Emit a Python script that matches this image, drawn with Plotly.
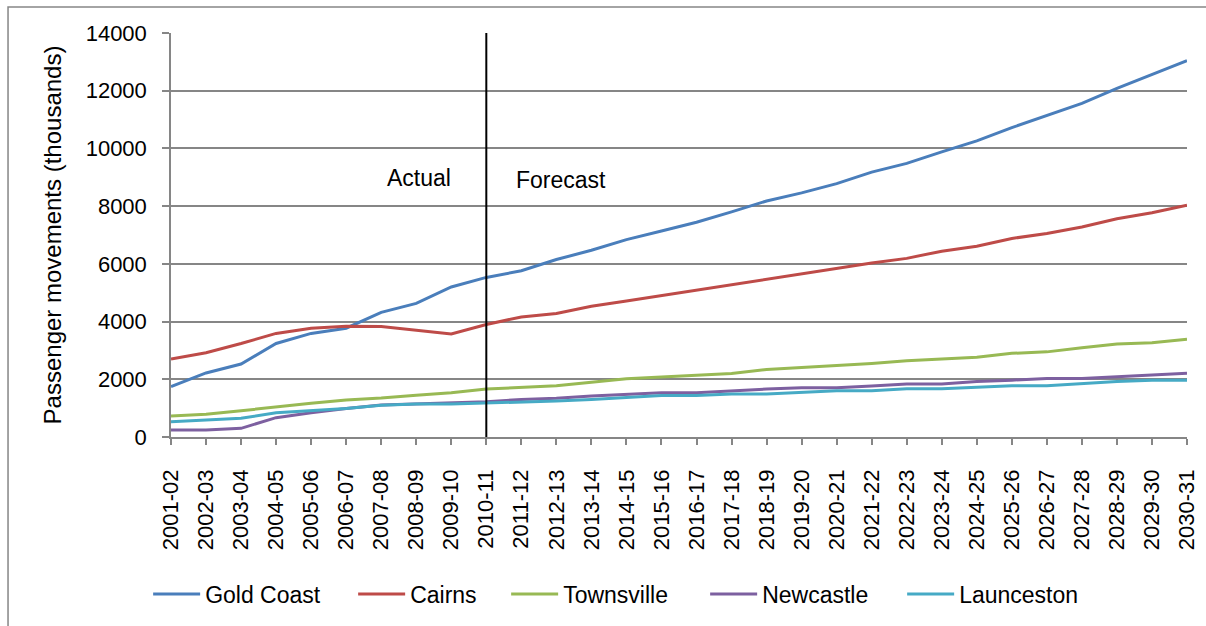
import plotly.graph_objects as go

years = ["2001-02", "2002-03", "2003-04", "2004-05", "2005-06", "2006-07", "2007-08",
         "2008-09", "2009-10", "2010-11", "2011-12", "2012-13", "2013-14", "2014-15",
         "2015-16", "2016-17", "2017-18", "2018-19", "2019-20", "2020-21", "2021-22",
         "2022-23", "2023-24", "2024-25", "2025-26", "2026-27", "2027-28", "2028-29",
         "2029-30", "2030-31"]

gold_coast = [1750, 2220, 2530, 3240, 3590, 3770, 4320, 4630, 5200, 5530,
              5760, 6150, 6470, 6840, 7140, 7440, 7800, 8180, 8460, 8780,
              9180, 9480, 9880, 10260, 10720, 11130, 11560, 12080, 12560, 13040]
cairns = [2700, 2920, 3240, 3590, 3770, 3840, 3830, 3700, 3570, 3900,
          4160, 4280, 4530, 4710, 4900, 5090, 5260, 5460, 5640, 5840,
          6030, 6190, 6440, 6610, 6880, 7050, 7280, 7560, 7770, 8030]
townsville = [730, 790, 910, 1050, 1170, 1280, 1350, 1450, 1530, 1660,
              1730, 1780, 1900, 2020, 2080, 2150, 2200, 2340, 2400, 2480,
              2550, 2640, 2700, 2760, 2900, 2950, 3090, 3220, 3270, 3390]
newcastle = [240, 240, 300, 670, 840, 990, 1110, 1140, 1170, 1220,
             1300, 1340, 1420, 1480, 1530, 1530, 1600, 1660, 1710, 1710,
             1770, 1840, 1840, 1920, 1970, 2030, 2030, 2090, 2150, 2210]
launceston = [530, 590, 650, 840, 910, 990, 1100, 1140, 1140, 1170,
              1220, 1250, 1300, 1360, 1440, 1440, 1490, 1490, 1550, 1600,
              1600, 1670, 1670, 1720, 1780, 1780, 1860, 1920, 1970, 1970]

series_names = ["Gold Coast", "Cairns", "Townsville", "Newcastle", "Launceston"]
series_values = [gold_coast, cairns, townsville, newcastle, launceston]
forecast_start = "2010-11"

colors = ["#4A7EBB", "#BE4B48", "#98B954", "#7D60A0", "#46AAC5"]
legend_widths = [143, 91, 137, 135, 130]

FONT = "Liberation Sans, Arial, sans-serif"
GRID = "#868686"

fig = go.Figure()
for name, vals, col, lw in zip(series_names, series_values, colors, legend_widths):
    fig.add_trace(go.Scatter(x=years, y=vals, name=name, mode="lines",
                             line=dict(color=col, width=3), legendwidth=lw))

fig.add_shape(type="line", xref="x", yref="paper", x0=forecast_start, x1=forecast_start,
              y0=0, y1=1, line=dict(color="black", width=2))
# outer chart border
fig.add_shape(type="rect", xref="paper", yref="paper", x0=-0.1604, x1=1.3, y0=-0.6, y1=1.0644,
              line=dict(color=GRID, width=1.5), layer="below")

fig.add_annotation(text="Actual", xref="paper", yref="paper", x=0.2776, y=0.641,
                   xanchor="right", yanchor="middle", showarrow=False,
                   font=dict(size=23, color="black", family=FONT))
fig.add_annotation(text="Forecast", xref="paper", yref="paper", x=0.3376, y=0.636,
                   xanchor="left", yanchor="middle", showarrow=False,
                   font=dict(size=23, color="black", family=FONT))

fig.update_layout(
    template="none",
    width=1206, height=626,
    margin=dict(l=171, r=19, t=33, b=189, autoexpand=False),
    paper_bgcolor="white", plot_bgcolor="white",
    font=dict(family=FONT, color="black", size=22),
    showlegend=True,
    legend=dict(orientation="h", x=-0.0225, y=-0.389, xanchor="left", yanchor="middle",
                font=dict(size=23, family=FONT), itemwidth=47, traceorder="normal",
                bgcolor="rgba(0,0,0,0)"),
    xaxis=dict(type="category", range=[0, len(years) - 1], showgrid=False,
               automargin=False,
               showline=True, linecolor=GRID, linewidth=1.5,
               ticks="outside", ticklen=6, tickcolor=GRID, tickwidth=1.5,
               tickangle=-90, tickfont=dict(size=22, family=FONT),
               ticklabelstandoff=16),
    yaxis=dict(range=[0, 14000], dtick=2000, tickformat="d",
               automargin=False,
               showgrid=True, gridcolor=GRID, gridwidth=1.5,
               showline=True, linecolor=GRID, linewidth=1.5,
               ticks="outside", ticklen=7, tickcolor=GRID, tickwidth=1.5,
               tickfont=dict(size=22, family=FONT), zeroline=False,
               ticklabelstandoff=11,
               title=dict(text="Passenger movements (thousands)",
                          font=dict(size=24, family=FONT), standoff=17)),
)

fig.write_html("out.html", config={"displayModeBar": False},
               post_script="document.body.style.margin='0';")
